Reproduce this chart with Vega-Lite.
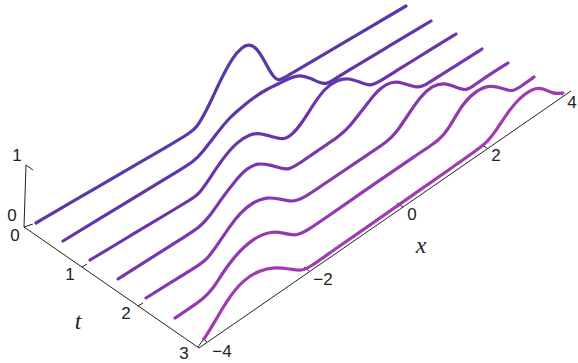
{
"$schema":"https://vega.github.io/schema/vega-lite/v6.json",
"width":578,"height":363,"padding":0,
"autosize":{"type":"fit","contains":"padding"},
"background":"white",
"config":{"view":{"stroke":null}},
"datasets":{
"axes":[
{"s":"z","h":24,"v":227},{"s":"z","h":26,"v":165},
{"s":"ztop","h":26,"v":165},{"s":"ztop","h":33,"v":170},
{"s":"z0","h":24,"v":227},{"s":"z0","h":33,"v":224},
{"s":"t","h":24,"v":227},{"s":"t","h":199,"v":348},
{"s":"t1","h":82,"v":267},{"s":"t1","h":87,"v":264},
{"s":"t2","h":138,"v":306},{"s":"t2","h":143,"v":303},
{"s":"t3","h":198,"v":347},{"s":"t3","h":203,"v":340},
{"s":"x","h":199,"v":348},{"s":"x","h":571,"v":91},
{"s":"xm4","h":202,"v":338},{"s":"xm4","h":207,"v":342},
{"s":"xm2","h":304,"v":267},{"s":"xm2","h":309,"v":271},
{"s":"x0","h":397,"v":203},{"s":"x0","h":403,"v":207},
{"s":"x2","h":482,"v":145},{"s":"x2","h":487,"v":148},
{"s":"x4","h":558,"v":92},{"s":"x4","h":563,"v":95}
],
"curves":[
{"t":"0.0","h":36,"v":223},{"t":"0.0","h":80,"v":197.3},{"t":"0.0","h":130,"v":168},{"t":"0.0","h":170,"v":145},{"t":"0.0","h":190,"v":133},{"t":"0.0","h":197,"v":127},{"t":"0.0","h":204,"v":115},{"t":"0.0","h":212,"v":99},{"t":"0.0","h":222,"v":77},{"t":"0.0","h":233,"v":57},{"t":"0.0","h":242,"v":47},{"t":"0.0","h":249,"v":44},{"t":"0.0","h":257,"v":48},{"t":"0.0","h":265,"v":62},{"t":"0.0","h":272,"v":75},{"t":"0.0","h":278,"v":81},{"t":"0.0","h":284,"v":78},{"t":"0.0","h":300,"v":68.4},{"t":"0.0","h":350,"v":39},{"t":"0.0","h":406,"v":6},
{"t":"0.5","h":63,"v":241},{"t":"0.5","h":100,"v":218.5},{"t":"0.5","h":150,"v":188},{"t":"0.5","h":180,"v":170},{"t":"0.5","h":193,"v":162},{"t":"0.5","h":202,"v":153},{"t":"0.5","h":217,"v":133},{"t":"0.5","h":230,"v":117},{"t":"0.5","h":242,"v":107},{"t":"0.5","h":253,"v":98},{"t":"0.5","h":267,"v":89},{"t":"0.5","h":280,"v":83},{"t":"0.5","h":292,"v":77},{"t":"0.5","h":300,"v":75},{"t":"0.5","h":310,"v":78},{"t":"0.5","h":320,"v":83},{"t":"0.5","h":326,"v":84},{"t":"0.5","h":332,"v":81},{"t":"0.5","h":345,"v":72.3},{"t":"0.5","h":390,"v":45.6},{"t":"0.5","h":431,"v":21},
{"t":"1.0","h":90,"v":260},{"t":"1.0","h":130,"v":236},{"t":"1.0","h":170,"v":212},{"t":"1.0","h":190,"v":200},{"t":"1.0","h":199,"v":194},{"t":"1.0","h":208,"v":181},{"t":"1.0","h":223,"v":158},{"t":"1.0","h":237,"v":142},{"t":"1.0","h":250,"v":134},{"t":"1.0","h":260,"v":133},{"t":"1.0","h":273,"v":137},{"t":"1.0","h":283,"v":140},{"t":"1.0","h":292,"v":135},{"t":"1.0","h":302,"v":123},{"t":"1.0","h":313,"v":105},{"t":"1.0","h":325,"v":88},{"t":"1.0","h":337,"v":80},{"t":"1.0","h":348,"v":78},{"t":"1.0","h":360,"v":82},{"t":"1.0","h":370,"v":86},{"t":"1.0","h":377,"v":83},{"t":"1.0","h":395,"v":71.7},{"t":"1.0","h":430,"v":50},{"t":"1.0","h":456,"v":34},
{"t":"1.5","h":118,"v":279},{"t":"1.5","h":150,"v":258.7},{"t":"1.5","h":185,"v":236.5},{"t":"1.5","h":200,"v":227},{"t":"1.5","h":210,"v":216},{"t":"1.5","h":222,"v":198},{"t":"1.5","h":235,"v":181},{"t":"1.5","h":247,"v":168},{"t":"1.5","h":258,"v":163},{"t":"1.5","h":270,"v":165},{"t":"1.5","h":280,"v":168},{"t":"1.5","h":288,"v":170},{"t":"1.5","h":297,"v":165},{"t":"1.5","h":317,"v":151},{"t":"1.5","h":340,"v":136},{"t":"1.5","h":350,"v":126},{"t":"1.5","h":360,"v":113},{"t":"1.5","h":370,"v":100},{"t":"1.5","h":380,"v":88},{"t":"1.5","h":393,"v":81},{"t":"1.5","h":403,"v":83},{"t":"1.5","h":417,"v":88},{"t":"1.5","h":424,"v":86},{"t":"1.5","h":440,"v":75.6},{"t":"1.5","h":465,"v":59.8},{"t":"1.5","h":482,"v":49},
{"t":"2.0","h":146,"v":298},{"t":"2.0","h":170,"v":283},{"t":"2.0","h":195,"v":267.5},{"t":"2.0","h":207,"v":260},{"t":"2.0","h":220,"v":241},{"t":"2.0","h":230,"v":226},{"t":"2.0","h":240,"v":213},{"t":"2.0","h":253,"v":202},{"t":"2.0","h":267,"v":197},{"t":"2.0","h":280,"v":199},{"t":"2.0","h":292,"v":202},{"t":"2.0","h":302,"v":199},{"t":"2.0","h":320,"v":186.8},{"t":"2.0","h":345,"v":170},{"t":"2.0","h":370,"v":153},{"t":"2.0","h":388,"v":141},{"t":"2.0","h":396,"v":133},{"t":"2.0","h":408,"v":115},{"t":"2.0","h":420,"v":97},{"t":"2.0","h":433,"v":85},{"t":"2.0","h":445,"v":83},{"t":"2.0","h":453,"v":86},{"t":"2.0","h":465,"v":91},{"t":"2.0","h":472,"v":87},{"t":"2.0","h":485,"v":77.5},{"t":"2.0","h":508,"v":63},
{"t":"2.5","h":175,"v":318},{"t":"2.5","h":190,"v":308},{"t":"2.5","h":203,"v":299},{"t":"2.5","h":212,"v":290},{"t":"2.5","h":222,"v":274},{"t":"2.5","h":233,"v":258},{"t":"2.5","h":253,"v":238},{"t":"2.5","h":272,"v":231},{"t":"2.5","h":283,"v":233},{"t":"2.5","h":295,"v":236},{"t":"2.5","h":305,"v":232},{"t":"2.5","h":325,"v":218.4},{"t":"2.5","h":380,"v":180},{"t":"2.5","h":415,"v":156},{"t":"2.5","h":435,"v":143},{"t":"2.5","h":443,"v":136},{"t":"2.5","h":452,"v":123},{"t":"2.5","h":463,"v":103},{"t":"2.5","h":477,"v":90},{"t":"2.5","h":490,"v":85},{"t":"2.5","h":502,"v":88},{"t":"2.5","h":512,"v":92},{"t":"2.5","h":520,"v":87},{"t":"2.5","h":527,"v":82},{"t":"2.5","h":534,"v":77},
{"t":"3.0","h":204,"v":339},{"t":"3.0","h":213,"v":325},{"t":"3.0","h":227,"v":300},{"t":"3.0","h":243,"v":280},{"t":"3.0","h":260,"v":270},{"t":"3.0","h":275,"v":267},{"t":"3.0","h":290,"v":269},{"t":"3.0","h":302,"v":271},{"t":"3.0","h":310,"v":267},{"t":"3.0","h":330,"v":252.7},{"t":"3.0","h":380,"v":218},{"t":"3.0","h":420,"v":190},{"t":"3.0","h":450,"v":169},{"t":"3.0","h":480,"v":148},{"t":"3.0","h":488,"v":141},{"t":"3.0","h":495,"v":132},{"t":"3.0","h":504,"v":118},{"t":"3.0","h":517,"v":100},{"t":"3.0","h":533,"v":88},{"t":"3.0","h":543,"v":88},{"t":"3.0","h":553,"v":94},{"t":"3.0","h":563,"v":93}
],
"ticklabels":[
{"label":"1","h":17,"v":156},{"label":"0","h":12,"v":216},{"label":"0","h":15,"v":236},{"label":"1","h":70,"v":275},{"label":"2","h":126,"v":314},{"label":"3","h":184,"v":354},
{"label":"−4","h":222,"v":352},{"label":"−2","h":323,"v":280},{"label":"0","h":412,"v":215},{"label":"2","h":496,"v":156},{"label":"4","h":572,"v":103}
],
"axistitles":[{"label":"t","h":78,"v":322},{"label":"x","h":421,"v":246}]
},
"layer":[
{"data":{"name":"axes"},"mark":{"type":"line","stroke":"#222222","strokeWidth":1},
 "encoding":{"x":{"field":"h","type":"quantitative","scale":{"domain":[0,578]},"axis":null},"y":{"field":"v","type":"quantitative","scale":{"domain":[363,0]},"axis":null},"detail":{"field":"s"},"order":{"field":"v"}}},
{"data":{"name":"curves"},"mark":{"type":"line","strokeWidth":3.2,"interpolate":"basis","strokeCap":"round","strokeJoin":"round"},
 "encoding":{"x":{"field":"h","type":"quantitative","scale":{"domain":[0,578]},"axis":null},"y":{"field":"v","type":"quantitative","scale":{"domain":[363,0]},"axis":null},
 "color":{"field":"t","type":"nominal","legend":null,"scale":{"domain":["0.0","0.5","1.0","1.5","2.0","2.5","3.0"],"range":["#5a38a6","#5f36a8","#6a35aa","#7a36ac","#8838ae","#9439b0","#a03cb0"]}}}},
{"data":{"name":"ticklabels"},"mark":{"type":"text","font":"Liberation Sans","fontSize":17,"fill":"#222222","align":"center","baseline":"middle"},
 "encoding":{"x":{"field":"h","type":"quantitative","scale":{"domain":[0,578]},"axis":null},"y":{"field":"v","type":"quantitative","scale":{"domain":[363,0]},"axis":null},"text":{"field":"label"}}},
{"data":{"name":"axistitles"},"mark":{"type":"text","font":"Liberation Serif","fontStyle":"italic","fontSize":24,"fill":"#222222","align":"center","baseline":"middle"},
 "encoding":{"x":{"field":"h","type":"quantitative","scale":{"domain":[0,578]},"axis":null},"y":{"field":"v","type":"quantitative","scale":{"domain":[363,0]},"axis":null},"text":{"field":"label"}}}
]
}
